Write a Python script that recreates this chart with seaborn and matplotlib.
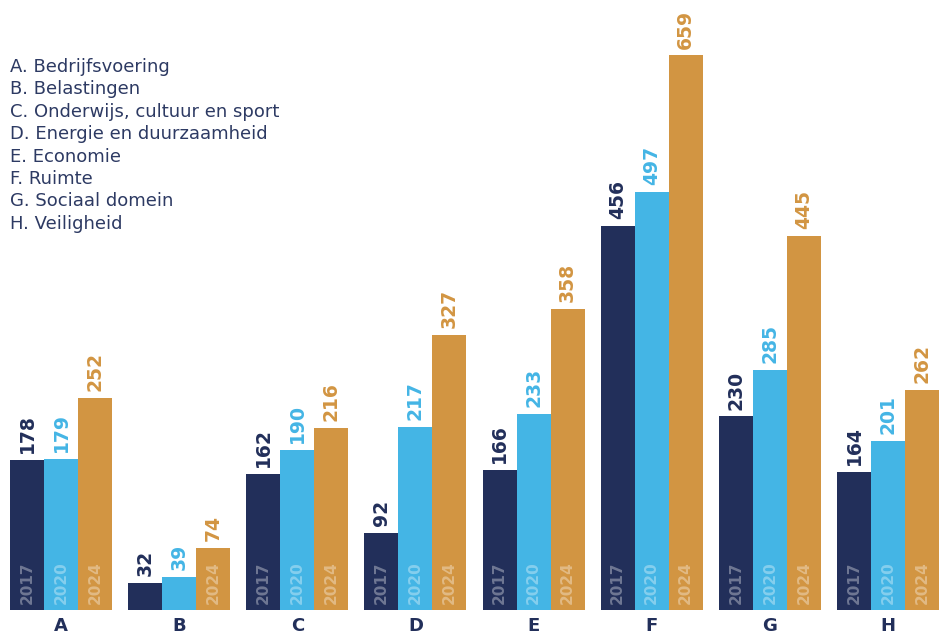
import matplotlib
matplotlib.use("Agg")
import matplotlib.pyplot as plt
import seaborn as sns
import pandas as pd

categories = ["A", "B", "C", "D", "E", "F", "G", "H"]
years = ["2017", "2020", "2024"]
values_2017 = [178, 32, 162, 92, 166, 456, 230, 164]
values_2020 = [179, 39, 190, 217, 233, 497, 285, 201]
values_2024 = [252, 74, 216, 327, 358, 659, 445, 262]
legend_lines = [
    "A. Bedrijfsvoering",
    "B. Belastingen",
    "C. Onderwijs, cultuur en sport",
    "D. Energie en duurzaamheid",
    "E. Economie",
    "F. Ruimte",
    "G. Sociaal domein",
    "H. Veiligheid",
]
colors = ["#222F5A", "#44B5E5", "#D29542"]

rows = []
for yr, vals in zip(years, [values_2017, values_2020, values_2024]):
    for c, v in zip(categories, vals):
        rows.append({"cat": c, "year": yr, "value": v})
df = pd.DataFrame(rows)

sns.set_theme(style="white")
plt.rcParams["font.family"] = ["DejaVu Sans"]

fig = plt.figure(figsize=(9.46, 6.34), dpi=100)
ax = fig.add_axes([10 / 946, 1 - 610 / 634, 929 / 946, 589 / 634])

sns.barplot(data=df, x="cat", y="value", hue="year", palette=colors,
            width=0.864, gap=0, saturation=1, legend=False, ax=ax,
            order=categories, hue_order=years, linewidth=0, edgecolor="none")

ax.set_xlim(-0.432, 7.432)
ax.set_ylim(0, 700)

for cont, yr, col in zip(ax.containers, years, colors):
    for bar in cont:
        bar.set_linewidth(0)
        h = bar.get_height()
        xc = bar.get_x() + bar.get_width() / 2
        ax.annotate(f"{int(round(h))}", (xc, h), xytext=(0, 5),
                    textcoords="offset points", rotation=90,
                    ha="center", va="bottom", fontsize=13.5,
                    fontweight="bold", color=col)
        if h >= 60:
            ax.annotate(yr, (xc, 0), xytext=(0, 4),
                        textcoords="offset points", rotation=90,
                        ha="center", va="bottom", fontsize=11,
                        fontweight="bold", color="white", alpha=0.35)

ax.set_xlabel("")
ax.set_ylabel("")
ax.set_yticks([])
ax.tick_params(axis="x", length=0, pad=5)
for lbl in ax.get_xticklabels():
    lbl.set_fontweight("bold")
    lbl.set_fontsize(13)
    lbl.set_color("#222F5A")
for s in ax.spines.values():
    s.set_visible(False)

top = 1 - 67 / 634
step = 22.4 / 634
for i, line in enumerate(legend_lines):
    fig.text(10 / 946, top - i * step, line, ha="left", va="center",
             fontsize=13, color="#2D3A63")

fig.savefig("out.png", dpi=100)
